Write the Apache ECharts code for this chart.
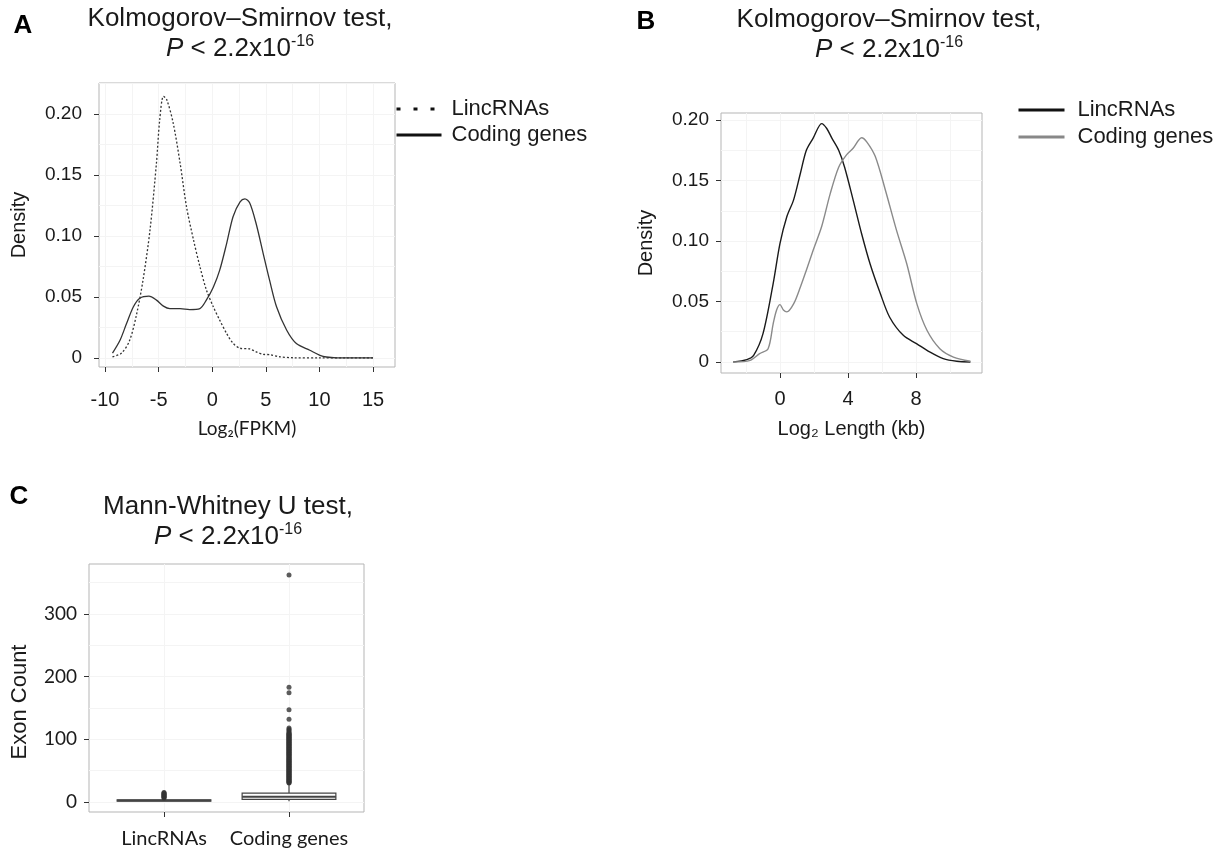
<!DOCTYPE html>
<html><head><meta charset="utf-8">
<script src="https://cdn.jsdelivr.net/npm/echarts@6/dist/echarts.min.js"></script>
<style>html,body{margin:0;padding:0;background:#fff}#c{width:1226px;height:853px}</style>
</head><body><div id="c"></div>
<script>
// ---------- Panel A: density of Log2(FPKM) ----------
const fpkmLincX = [-9.3, -8.45, -7.7, -7.05, -6.45, -5.8, -5.2, -4.9, -4.55, -4.25, -3.65, -3.0, -2.4, -1.75, -1.15, -0.55, 0.1, 0.7, 1.35, 1.95, 2.6, 3.5, 4.1, 4.75, 5.4, 6.3, 7.5, 10, 12.5, 15];
const fpkmLincY = [0.001, 0.004, 0.0145, 0.036, 0.064, 0.105, 0.16, 0.195, 0.2145, 0.212, 0.193, 0.16, 0.124, 0.097, 0.075, 0.056, 0.042, 0.031, 0.020, 0.012, 0.008, 0.0074, 0.005, 0.003, 0.0027, 0.001, 0.0002, 0, 0, 0];
const fpkmCodingX = [-9.3, -8.6, -8.0, -7.35, -6.75, -5.9, -5.2, -4.55, -3.95, -3.0, -2.1, -1.15, -0.55, 0.1, 0.7, 1.35, 1.95, 2.6, 3.05, 3.5, 4.1, 4.75, 5.35, 6.0, 6.95, 7.85, 9.1, 10.05, 10.65, 11.6, 13, 15];
const fpkmCodingY = [0.004, 0.0145, 0.028, 0.042, 0.049, 0.0507, 0.0474, 0.0425, 0.0405, 0.0405, 0.0397, 0.0405, 0.0474, 0.058, 0.072, 0.094, 0.116, 0.128, 0.1304, 0.127, 0.110, 0.0858, 0.0638, 0.042, 0.0227, 0.0118, 0.0063, 0.0022, 0.0008, 0.0001, 0, 0];
const fpkmXTicks = [-10, -5, 0, 5, 10, 15];
const fpkmXMinor = [-10, -7.5, -5, -2.5, 0, 2.5, 5, 7.5, 10, 12.5, 15];
const densTicksA = [0, 0.05, 0.10, 0.15, 0.20];
const densTickLabelsA = ['0', '0.05', '0.10', '0.15', '0.20'];
const densMinorA = [0, 0.025, 0.05, 0.075, 0.10, 0.125, 0.15, 0.175, 0.20, 0.225];

// ---------- Panel B: density of Log2 length ----------
const lenLincX = [-2.75, -1.95, -1.55, -1.0, -0.4, 0, 0.4, 0.8, 1.2, 1.55, 1.95, 2.45, 2.75, 3.05, 3.45, 3.8, 4.3, 4.8, 5.3, 5.9, 6.45, 7.25, 8.05, 8.8, 9.6, 10.4, 11.2];
const lenLincY = [0, 0.002, 0.0055, 0.0234, 0.065, 0.098, 0.12, 0.134, 0.156, 0.175, 0.185, 0.197, 0.193, 0.185, 0.175, 0.161, 0.134, 0.106, 0.081, 0.0566, 0.037, 0.022, 0.015, 0.0083, 0.0028, 0.0006, 0];
const lenCodingX = [-2.75, -1.75, -1.2, -0.7, -0.4, -0.2, 0, 0.2, 0.4, 0.8, 1.2, 1.55, 1.95, 2.45, 2.95, 3.45, 3.9, 4.3, 4.8, 5.1, 5.6, 6.2, 6.85, 7.45, 8.05, 8.65, 9.4, 10.2, 11.2];
const lenCodingY = [0, 0.0014, 0.0069, 0.011, 0.0317, 0.043, 0.0474, 0.043, 0.0414, 0.048, 0.062, 0.0759, 0.0924, 0.112, 0.139, 0.161, 0.171, 0.1766, 0.1854, 0.182, 0.17, 0.142, 0.109, 0.0814, 0.048, 0.026, 0.011, 0.0041, 0.0006];
const lenXTicks = [0, 4, 8];
const lenXMinor = [-2, 0, 2, 4, 6, 8, 10];
const densTicksB = [0, 0.05, 0.10, 0.15, 0.20];
const densTickLabelsB = ['0', '0.05', '0.10', '0.15', '0.20'];
const densMinorB = [0, 0.025, 0.05, 0.075, 0.10, 0.125, 0.15, 0.175, 0.20];

// ---------- Panel C: exon count box plot ----------
const exonCategories = ['LincRNAs', 'Coding genes'];
// [lower whisker, Q1, median, Q3, upper whisker]
const exonLincBox = [1, 1, 2, 3, 5];
const exonCodingBox = [1, 4, 8, 14, 29];
const exonLincOutliers = [6, 7, 8, 9, 10, 11, 12, 13, 14, 15];
const exonCodingOutliers = [30, 31, 32, 33, 34, 35, 36, 37, 38, 39, 40, 41, 42, 43, 44, 45, 46, 47, 48, 49, 50, 51, 52, 53, 54, 55, 56, 57, 58, 59, 60, 61, 62, 63, 64, 65, 66, 67, 68, 69, 70, 71, 72, 73, 74, 75, 76, 77, 78, 79, 80, 81, 82, 83, 84, 85, 86, 87, 88, 89, 90, 91, 92, 93, 94, 95, 96, 97, 98, 99, 100, 101, 102, 103, 104, 105, 106, 107, 108, 109, 110, 112, 114, 116, 118, 132, 147, 174, 183, 362];
const exonYTicks = [0, 100, 200, 300];
const exonYMinor = [0, 50, 100, 150, 200, 250, 300, 350];

// ---------- helpers ----------
const ARIAL = 'Liberation Sans, Arial, sans-serif';
const CALIBRI = 'Lato, Open Sans, sans-serif';
const pairs = (xs, ys) => xs.map((x, i) => [x, ys[i]]);
const labelOf = (ticks, labels) => v => {
  let best = 0;
  ticks.forEach((t, i) => { if (Math.abs(t - v) < Math.abs(ticks[best] - v)) best = i; });
  return labels[best];
};
const GRIDC = '#ebebeb', MINORC = '#f4f4f4', TICKC = '#333', TXT = '#1a1a1a';

function mainAxis(gridIndex, min, max, ticks, fmt, font, size, margin, extra) {
  return Object.assign({
    gridIndex, type: 'value', min, max,
    axisLine: { show: false, onZero: false },
    axisTick: { show: true, customValues: ticks, length: 5, lineStyle: { color: TICKC, width: 1 } },
    axisLabel: { customValues: ticks, formatter: fmt, color: TXT, fontFamily: font, fontSize: size, margin },
    splitLine: { show: true, lineStyle: { color: GRIDC, width: 1 } }
  }, extra || {});
}
function minorAxis(gridIndex, min, max, vals) {
  return {
    gridIndex, type: 'value', min, max,
    axisLine: { show: false, onZero: false },
    axisTick: { show: false, customValues: vals },
    axisLabel: { show: false, customValues: vals },
    splitLine: { show: true, lineStyle: { color: MINORC, width: 1 } }
  };
}

const gridA = { left: 99, top: 83, width: 296, height: 284 };
const gridB = { left: 721, top: 113, width: 261, height: 260 };
const gridC = { left: 89, top: 564, width: 275, height: 248 };
const gridStyle = { show: true, borderColor: '#b5b5b5', borderWidth: 1, backgroundColor: '#fff', containLabel: false };

const titleRich = {
  t: { fontFamily: ARIAL, fontSize: 26, lineHeight: 30, fill: TXT },
  i: { fontFamily: ARIAL, fontSize: 26, lineHeight: 30, fontStyle: 'italic', fill: TXT },
  s: { fontFamily: ARIAL, fontSize: 16, lineHeight: 18, verticalAlign: 'top', fill: TXT }
};
function titleText(x, y, line1) {
  return {
    type: 'text', x, y, z: 100,
    style: {
      text: '{t|' + line1 + '}\n{i|P}{t| < 2.2x10}{s|-16}',
      rich: titleRich, align: 'center', verticalAlign: 'middle'
    }
  };
}
function panelLetter(x, y, t) {
  return { type: 'text', x, y, z: 100, style: { text: t, fontFamily: ARIAL, fontWeight: 'bold', fontSize: 26, fill: '#000', align: 'center', verticalAlign: 'middle' } };
}

const fmtA = labelOf(densTicksA, densTickLabelsA);
const fmtB = labelOf(densTicksB, densTickLabelsB);
const hiddenDot = { opacity: 0 };

const option = {
  animation: false,
  backgroundColor: '#fff',
  grid: [
    Object.assign({}, gridA, gridStyle),
    Object.assign({}, gridB, gridStyle),
    Object.assign({}, gridC, gridStyle)
  ],
  xAxis: [
    mainAxis(0, -10.56, 17.05, fpkmXTicks, v => String(v), ARIAL, 20, 23,
      { name: 'Log₂(FPKM)', nameLocation: 'middle', nameGap: 52, nameTextStyle: { fontFamily: CALIBRI, fontSize: 19, color: TXT } }),
    minorAxis(0, -10.56, 17.05, fpkmXMinor),
    mainAxis(1, -3.47, 11.88, lenXTicks, v => String(v), ARIAL, 20, 16,
      { name: 'Log₂ Length (kb)', nameLocation: 'middle', nameGap: 46, nameTextStyle: { fontFamily: ARIAL, fontSize: 20, color: TXT } }),
    minorAxis(1, -3.47, 11.88, lenXMinor),
    mainAxis(2, 0.4, 2.6, [1, 2], v => exonCategories[Math.round(v) - 1], CALIBRI, 20, 17),
    minorAxis(2, 0.4, 2.6, [1, 2])
  ],
  yAxis: [
    mainAxis(0, -0.0074, 0.2254, densTicksA, fmtA, ARIAL, 19, 17,
      { name: 'Density', nameLocation: 'middle', nameGap: 70, nameRotate: 90, nameTextStyle: { fontFamily: ARIAL, fontSize: 20, color: TXT } }),
    minorAxis(0, -0.0074, 0.2254, densMinorA),
    mainAxis(1, -0.0091, 0.2058, densTicksB, fmtB, ARIAL, 19, 12,
      { name: 'Density', nameLocation: 'middle', nameGap: 65, nameRotate: 90, nameTextStyle: { fontFamily: ARIAL, fontSize: 20, color: TXT } }),
    minorAxis(1, -0.0091, 0.2058, densMinorB),
    mainAxis(2, -16.2, 379.7, exonYTicks, v => String(v), CALIBRI, 19, 12,
      { name: 'Exon Count', nameLocation: 'middle', nameGap: 58, nameRotate: 90, nameTextStyle: { fontFamily: ARIAL, fontSize: 22, color: TXT, padding: [0, 28, 0, 0] } }),
    minorAxis(2, -16.2, 379.7, exonYMinor)
  ],
  legend: [
    {
      orient: 'vertical', left: 390, top: 93, itemWidth: 45, itemHeight: 14, itemGap: 4,
      selectedMode: false,
      textStyle: { fontFamily: ARIAL, fontSize: 22, color: TXT, padding: [0, 0, 0, 5] },
      data: [
        { name: 'LincRNAs', itemStyle: hiddenDot, lineStyle: { color: '#111', width: 3, type: [4, 13] } },
        { name: 'Coding genes', itemStyle: hiddenDot, lineStyle: { color: '#111', width: 3, type: 'solid' } }
      ]
    },
    {
      orient: 'vertical', left: 1012, top: 94, itemWidth: 46, itemHeight: 14, itemGap: 5,
      selectedMode: false,
      textStyle: { fontFamily: ARIAL, fontSize: 22, color: TXT, padding: [0, 0, 0, 8] },
      data: [
        { name: 'LincRNAs', itemStyle: hiddenDot, lineStyle: { color: '#111', width: 3, type: 'solid' } },
        { name: 'Coding genes', itemStyle: hiddenDot, lineStyle: { color: '#888', width: 3, type: 'solid' } }
      ]
    }
  ],
  series: [
    { type: 'line', name: 'LincRNAs', xAxisIndex: 0, yAxisIndex: 0, data: pairs(fpkmLincX, fpkmLincY), smooth: 0.3, symbol: 'none', z: 5,
      lineStyle: { color: '#333', width: 1.3, type: [2, 2] }, itemStyle: { color: '#333' } },
    { type: 'line', name: 'Coding genes', xAxisIndex: 0, yAxisIndex: 0, data: pairs(fpkmCodingX, fpkmCodingY), smooth: 0.3, symbol: 'none', z: 5,
      lineStyle: { color: '#333', width: 1.3, type: 'solid' }, itemStyle: { color: '#333' } },
    { type: 'line', name: 'LincRNAs', xAxisIndex: 2, yAxisIndex: 2, data: pairs(lenLincX, lenLincY), smooth: 0.3, symbol: 'none', z: 5,
      lineStyle: { color: '#1a1a1a', width: 1.4 }, itemStyle: { color: '#1a1a1a' } },
    { type: 'line', name: 'Coding genes', xAxisIndex: 2, yAxisIndex: 2, data: pairs(lenCodingX, lenCodingY), smooth: 0.3, symbol: 'none', z: 5,
      lineStyle: { color: '#8a8a8a', width: 1.4 }, itemStyle: { color: '#8a8a8a' } },
    {
      type: 'custom', name: 'boxes', xAxisIndex: 4, yAxisIndex: 4, z: 5,
      data: [[1].concat(exonLincBox), [2].concat(exonCodingBox)],
      renderItem: (params, api) => {
        const x = api.value(0);
        const half = api.size([0.75, 0])[0] / 2;
        const pMin = api.coord([x, api.value(1)]);
        const pQ1 = api.coord([x, api.value(2)]);
        const pMed = api.coord([x, api.value(3)]);
        const pQ3 = api.coord([x, api.value(4)]);
        const pMax = api.coord([x, api.value(5)]);
        const st = { stroke: '#444', lineWidth: 1.2, fill: 'none' };
        return {
          type: 'group', children: [
            { type: 'line', shape: { x1: pMin[0], y1: pMin[1], x2: pQ1[0], y2: pQ1[1] }, style: st },
            { type: 'line', shape: { x1: pQ3[0], y1: pQ3[1], x2: pMax[0], y2: pMax[1] }, style: st },
            { type: 'rect', shape: { x: pQ1[0] - half, y: pQ3[1], width: half * 2, height: Math.max(pQ1[1] - pQ3[1], 0.5) }, style: { stroke: '#444', lineWidth: 1.2, fill: '#fff' } },
            { type: 'line', shape: { x1: pMed[0] - half, y1: pMed[1], x2: pMed[0] + half, y2: pMed[1] }, style: { stroke: '#444', lineWidth: 2 } }
          ]
        };
      }
    },
    { type: 'scatter', name: 'outliersLinc', xAxisIndex: 4, yAxisIndex: 4, z: 6, symbolSize: 5,
      data: exonLincOutliers.map(v => [1, v]), itemStyle: { color: '#333' } },
    { type: 'scatter', name: 'outliersCoding', xAxisIndex: 4, yAxisIndex: 4, z: 6, symbolSize: 5,
      data: exonCodingOutliers.map(v => [2, v]), itemStyle: { color: '#333' } }
  ],
  graphic: [
    panelLetter(23, 26, 'A'),
    panelLetter(646, 22, 'B'),
    panelLetter(19, 497, 'C'),
    titleText(240, 34, 'Kolmogorov–Smirnov test,'),
    titleText(889, 35, 'Kolmogorov–Smirnov test,'),
    {
      type: 'text', x: 228, y: 522, z: 100,
      style: { text: '{t|Mann-Whitney U test,}\n{i|P}{t| < 2.2x10}{s|-16}', rich: titleRich, align: 'center', verticalAlign: 'middle' }
    }
  ]
};

const chart = echarts.init(document.getElementById('c'), null, { renderer: 'canvas' });
chart.setOption(option);
</script>
</body></html>
